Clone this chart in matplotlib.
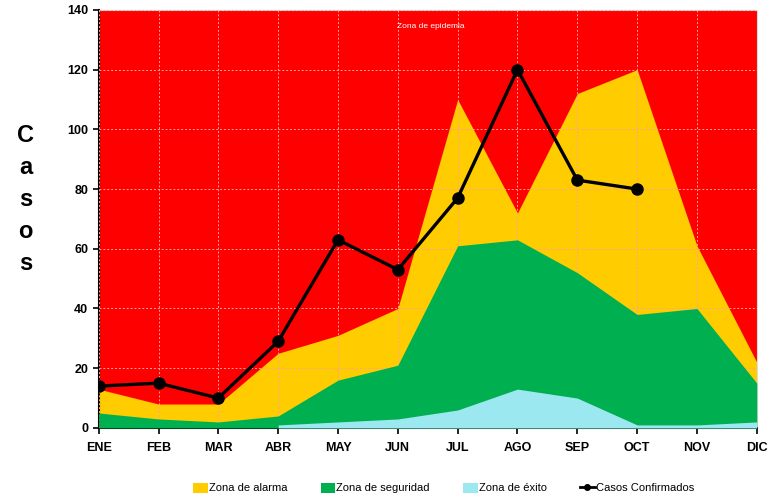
"""Casos confirmados frente al canal endémico (zonas de éxito, seguridad, alarma, epidemia)."""

import numpy as np
import matplotlib.pyplot as plt
from matplotlib.patches import Patch
from matplotlib.lines import Line2D

plt.rcParams['font.family'] = ['Liberation Sans', 'DejaVu Sans']

meses = ["ENE", "FEB", "MAR", "ABR", "MAY", "JUN", "JUL", "AGO", "SEP", "OCT", "NOV", "DIC"]

# upper edge of each zone
exito = [np.nan, np.nan, np.nan, 1, 2, 3, 6, 13, 10, 1, 1, 2]
seguridad = [5, 3, 2, 4, 16, 21, 61, 63, 52, 38, 40, 15]
alarma = [13, 8, 8, 25, 31, 40, 110, 72, 112, 120, 61, 22]
epidemia_tope = 140

# confirmed cases (only up to OCT)
casos = [14, 15, 10, 29, 63, 53, 77, 120, 83, 80]

c_rojo = "#FF0000"
c_amarillo = "#FFCC00"
c_verde = "#00B050"
c_celeste = "#9BE8F0"

x = np.arange(len(meses))

fig = plt.figure(figsize=(7.77, 4.97), dpi=100)
ax = fig.add_axes([0.127, 0.139, 0.847, 0.841])

ax.fill_between(x, 0, epidemia_tope, color=c_rojo, linewidth=0, zorder=1)
ax.fill_between(x, 0, alarma, color=c_amarillo, linewidth=0, zorder=2)
ax.fill_between(x, 0, seguridad, color=c_verde, linewidth=0, zorder=3)
ax.fill_between(x, 0, exito, color=c_celeste, linewidth=0, zorder=4)

ax.plot(x[:len(casos)], casos, color="black", linewidth=2.4, marker="o",
        markersize=8, zorder=6)

ax.text(5.55, 134.5, "Zona de epidemia", color="white", fontsize=6,
        ha="center", va="center", zorder=7)

ax.set_xlim(0, 11)
ax.set_ylim(0, 140)
ax.set_yticks(range(0, 141, 20))
ax.set_xticks(x)
ax.set_xticklabels(meses)
for lab in ax.get_xticklabels() + ax.get_yticklabels():
    lab.set_fontweight("bold")
    lab.set_fontsize(9)

ax.grid(True, color="#FFA0A0", linestyle=(0, (2, 2)), linewidth=0.7)
ax.set_axisbelow(False)
for l in ax.get_xgridlines() + ax.get_ygridlines():
    l.set_zorder(5)

ax.spines["top"].set_color("#DDDDDD")
ax.spines["right"].set_color("#DDDDDD")
ax.spines["left"].set_linewidth(1.5)
ax.spines["bottom"].set_linewidth(1.5)
ax.tick_params(axis="both", direction="out", length=4, width=1.2, colors="black")
ax.tick_params(axis="x", pad=6)

fig.text(0.033, 0.598, "\n".join("Casos"), fontsize=17, fontweight="bold",
         ha="center", va="center", linespacing=1.5)

handles = [
    Patch(facecolor=c_amarillo, edgecolor="none"),
    Patch(facecolor=c_verde, edgecolor="none"),
    Patch(facecolor=c_celeste, edgecolor="none"),
    Line2D([0], [0], color="black", linewidth=2, marker="o", markersize=4),
]
labels = ["Zona de alarma", "Zona de seguridad", "Zona de éxito", "Casos Confirmados"]
fig.legend(handles, labels, loc="center", bbox_to_anchor=(0.571, 0.018), ncol=4,
           frameon=False, fontsize=8, handlelength=1.3, handletextpad=0.1,
           columnspacing=3.0, handleheight=1.0)

fig.savefig("out.png", dpi=100)
